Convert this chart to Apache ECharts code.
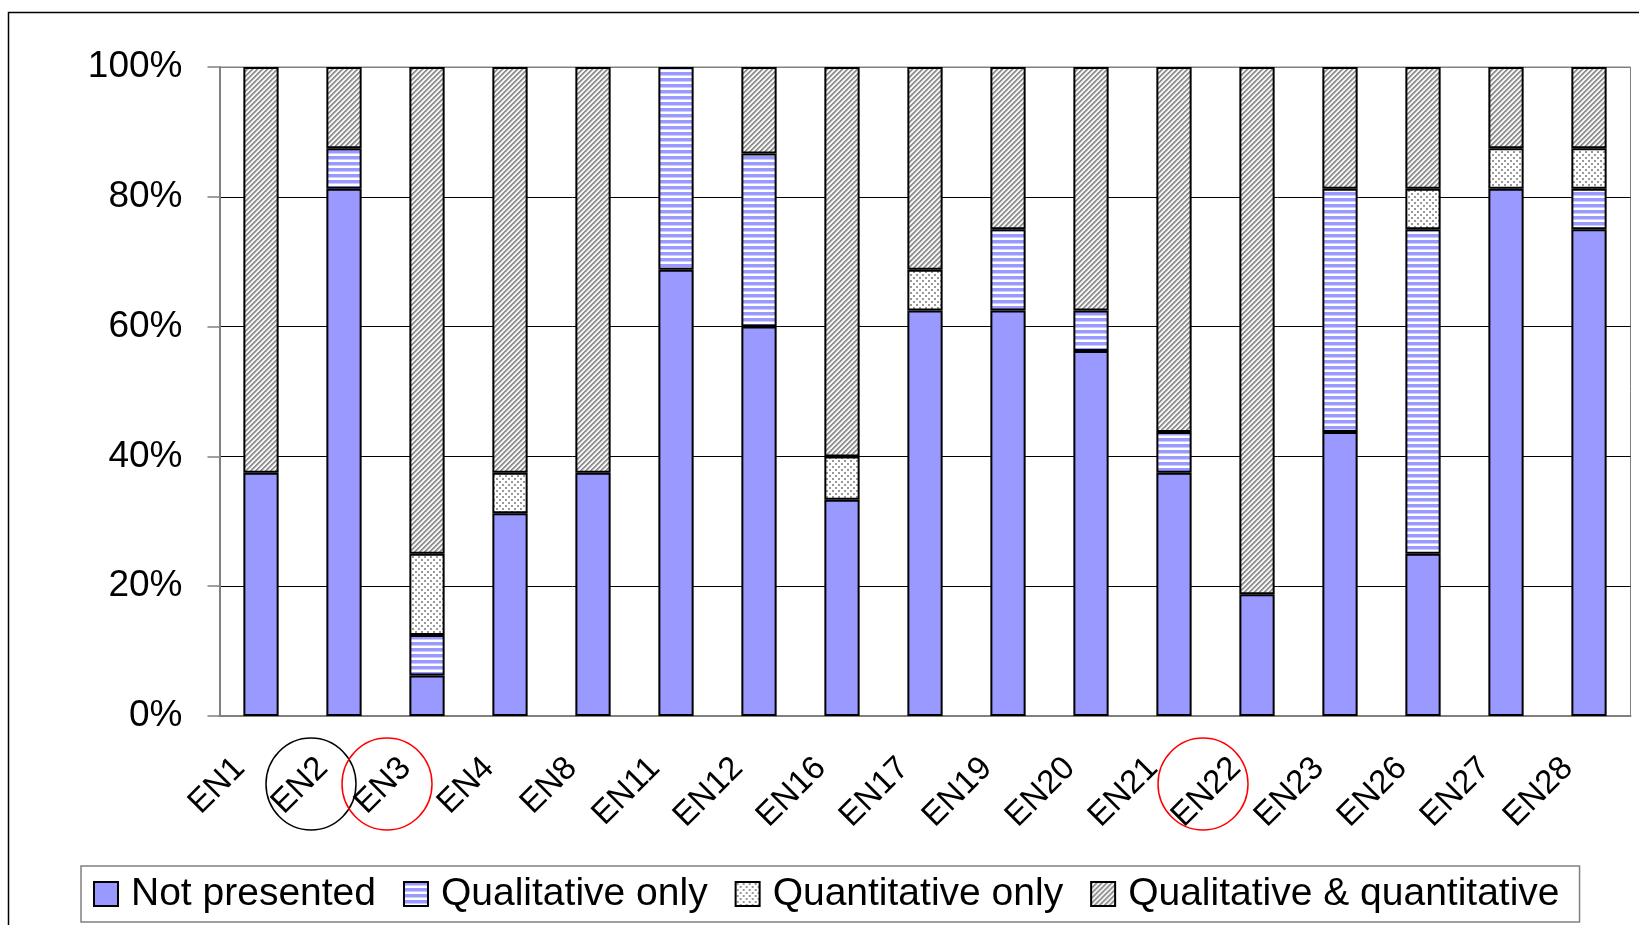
<!DOCTYPE html>
<html>
<head>
<meta charset="utf-8">
<script src="https://cdn.jsdelivr.net/npm/echarts@6/dist/echarts.min.js"></script>
<style>
  html, body { margin: 0; padding: 0; background: #fff; }
  #chart { width: 1639px; height: 925px; }
</style>
</head>
<body>
<div id="chart"></div>
<script>
const categories = ['EN1', 'EN2', 'EN3', 'EN4', 'EN8', 'EN11', 'EN12', 'EN16', 'EN17', 'EN19', 'EN20', 'EN21', 'EN22', 'EN23', 'EN26', 'EN27', 'EN28']
const notPresented = [37.5, 81.25, 6.25, 31.25, 37.5, 68.75, 60, 33.33, 62.5, 62.5, 56.25, 37.5, 18.75, 43.75, 25, 81.25, 75]
const qualitativeOnly = [0, 6.25, 6.25, 0, 0, 31.25, 26.67, 0, 0, 12.5, 6.25, 6.25, 0, 37.5, 50, 0, 6.25]
const quantitativeOnly = [0, 0, 12.5, 6.25, 0, 0, 0, 6.67, 6.25, 0, 0, 0, 0, 0, 6.25, 6.25, 6.25]
const qualAndQuant = [62.5, 12.5, 75, 62.5, 62.5, 0, 13.33, 60, 31.25, 25, 37.5, 56.25, 81.25, 18.75, 18.75, 12.5, 12.5]
const yTicks = [0, 20, 40, 60, 80, 100]

// circled labels (annotation drawn over the axis labels)
const circled = [
  { cat: 'EN2', color: '#000', dx: -33 },
  { cat: 'EN3', color: '#ff0000', dx: -40 },
  { cat: 'EN22', color: '#ff0000', dx: -54 }
]

const FONT = '"Liberation Sans", Arial, sans-serif'

// fill patterns
const makePattern = (size, draw) => {
  const c = document.createElement('canvas')
  c.width = size
  c.height = size
  const ctx = c.getContext('2d')
  draw(ctx, size)
  return { image: c, repeat: 'repeat' }
}

const stripes = makePattern(6, (ctx, s) => {
  ctx.fillStyle = '#fff'
  ctx.fillRect(0, 0, s, s)
  ctx.fillStyle = '#9999ff'
  ctx.fillRect(0, 0, s, 3)
  ctx.fillStyle = '#ccccff'
  ctx.fillRect(0, 3, s, 1)
})

const dots = makePattern(6, (ctx, s) => {
  ctx.fillStyle = '#fff'
  ctx.fillRect(0, 0, s, s)
  ctx.fillStyle = '#999'
  ctx.fillRect(1, 1, 2, 2)
  ctx.fillRect(4, 4, 2, 2)
})

// diagonal "/" hatch, 5px period
const hatch = makePattern(5, (ctx, s) => {
  const img = ctx.createImageData(s, s)
  const shades = [140, 150, 200, 255, 235]
  for (let y = 0; y < s; y++) {
    for (let x = 0; x < s; x++) {
      const i = (y * s + x) * 4
      const v = shades[(x + y) % s]
      img.data[i] = v
      img.data[i + 1] = v
      img.data[i + 2] = v
      img.data[i + 3] = 255
    }
  }
  ctx.putImageData(img, 0, 0)
})

const noZero = arr => arr.map(v => (v === 0 ? '-' : v))

const barSeries = (name, data, color) => ({
  name,
  type: 'bar',
  stack: 'total',
  barWidth: '42.5%',
  data: noZero(data),
  itemStyle: {
    color,
    borderColor: '#000',
    borderWidth: 2
  },
  emphasis: { disabled: true }
})

const chart = echarts.init(document.getElementById('chart'))
chart.setOption({
  animation: false,
  grid: {
    left: 219.5,
    right: 8.5,
    top: 67,
    bottom: 209,
    show: true,
    borderColor: '#808080',
    borderWidth: 1
  },
  legend: {
    left: 81,
    top: 866,
    icon: 'rect',
    itemWidth: 24,
    itemHeight: 24,
    itemGap: 27,
    padding: [8, 20, 8, 12],
    borderColor: '#808080',
    borderWidth: 1.5,
    selectedMode: false,
    itemStyle: { borderColor: '#000', borderWidth: 2 },
    textStyle: {
      fontSize: 39,
      lineHeight: 40,
      color: '#000',
      fontFamily: FONT,
      padding: [0, 0, 0, 8]
    },
    data: ['Not presented', 'Qualitative only', 'Quantitative only', 'Qualitative & quantitative']
  },
  xAxis: {
    type: 'category',
    data: categories,
    axisLine: { lineStyle: { color: '#808080', width: 2 } },
    axisTick: { length: 10, lineStyle: { color: '#808080', width: 1.5 } },
    axisLabel: {
      rotate: 45,
      margin: 26,
      padding: [0, 30, 0, 0],
      fontSize: 33,
      color: '#000',
      fontFamily: FONT,
      interval: 0
    }
  },
  yAxis: {
    type: 'value',
    min: yTicks[0],
    max: yTicks[yTicks.length - 1],
    interval: 20,
    axisLine: { show: true, lineStyle: { color: '#808080', width: 2 } },
    axisTick: { show: true, length: 12, lineStyle: { color: '#808080', width: 1.5 } },
    axisLabel: {
      margin: 37,
      fontSize: 37,
      color: '#000',
      fontFamily: FONT,
      formatter: '{value}%'
    },
    splitLine: {
      lineStyle: {
        color: ['#808080', '#000', '#000', '#000', '#000', '#808080'],
        width: 1
      }
    }
  },
  series: [
    barSeries('Not presented', notPresented, '#9999ff'),
    barSeries('Qualitative only', qualitativeOnly, stripes),
    barSeries('Quantitative only', quantitativeOnly, dots),
    barSeries('Qualitative & quantitative', qualAndQuant, hatch)
  ]
})

// outer frame + label circles
const axisY = chart.convertToPixel({ yAxisIndex: 0 }, 0)
const graphics = [
  {
    type: 'rect',
    shape: { x: 8.5, y: 12.5, width: 2000, height: 2000 },
    style: { fill: null, stroke: '#000', lineWidth: 1.5 },
    silent: true
  }
]
circled.forEach(c => {
  const cx = chart.convertToPixel({ xAxisIndex: 0 }, c.cat)
  graphics.push({
    type: 'ellipse',
    shape: { cx: cx + c.dx, cy: axisY + 68, rx: 45, ry: 46 },
    style: { fill: null, stroke: c.color, lineWidth: 1.5 },
    silent: true
  })
})
chart.setOption({ graphic: graphics })

window.addEventListener('resize', () => chart.resize())
</script>
</body>
</html>
